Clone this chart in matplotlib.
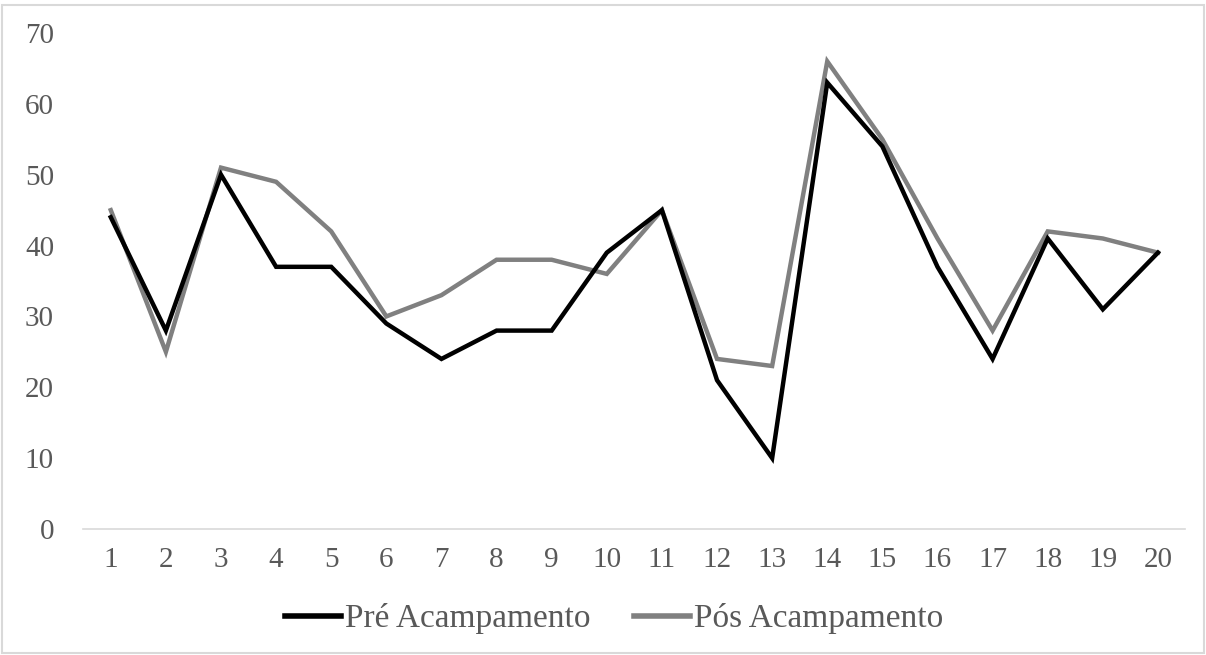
import matplotlib
matplotlib.use("Agg")
import matplotlib.pyplot as plt
from matplotlib.patches import Rectangle

# data
participants = list(range(1, 21))
pre_values = [44, 28, 50, 37, 37, 29, 24, 28, 28, 39, 45, 21, 10, 63, 54, 37, 24, 41, 31, 39]
pos_values = [45, 25, 51, 49, 42, 30, 33, 38, 38, 36, 45, 24, 23, 66, 55, 41, 28, 42, 41, 39]
series_labels = ["Pré Acampamento", "Pós Acampamento"]
y_ticks = [0, 10, 20, 30, 40, 50, 60, 70]

plt.rcParams["font.family"] = ["Liberation Serif", "DejaVu Serif"]
text_color = "#595959"

fig = plt.figure(figsize=(12.06, 6.55), dpi=100)
ax = fig.add_axes([0.069, 0.1924, 0.914, 0.7572])

ax.plot(participants, pre_values, color="#000000", linewidth=3.2, label=series_labels[0],
        solid_joinstyle="miter", zorder=3)
ax.plot(participants, pos_values, color="#808080", linewidth=3.2, label=series_labels[1],
        solid_joinstyle="miter", zorder=2)

ax.set_xlim(0.5, 20.5)
ax.set_ylim(0, 70)
ax.set_xticks(participants)
ax.set_yticks(y_ticks)
for side in ["top", "right", "left"]:
    ax.spines[side].set_visible(False)
ax.spines["bottom"].set_color("#d9d9d9")
ax.spines["bottom"].set_linewidth(1.2)
ax.tick_params(axis="both", length=0, labelsize=21, colors=text_color)
ax.tick_params(axis="x", pad=13)
ax.tick_params(axis="y", pad=21)

leg = fig.legend(loc="center", bbox_to_anchor=(0.509, 0.055), ncol=2, frameon=False,
                 fontsize=24, handlelength=1.7, handletextpad=0.1, columnspacing=1.3)
for text in leg.get_texts():
    text.set_color(text_color)
for line in leg.get_lines():
    line.set_linewidth(4)

fig.patches.append(Rectangle((0.002, 0.003), 0.996, 0.99, transform=fig.transFigure,
                             fill=False, edgecolor="#d9d9d9", linewidth=1.5))

fig.savefig("out.png", dpi=100)
plt.close(fig)
